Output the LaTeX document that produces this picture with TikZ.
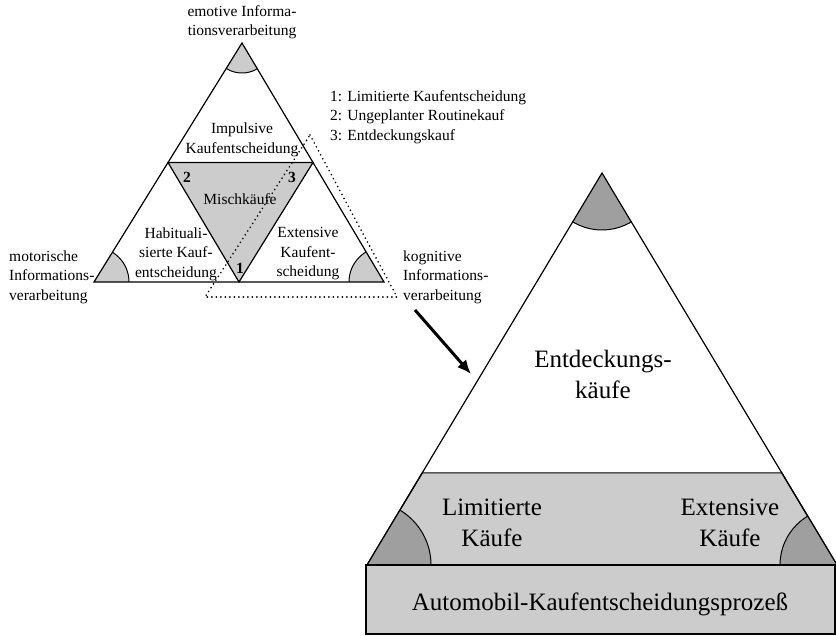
\documentclass[tikz,border=0pt]{standalone}
\usepackage{fontspec}
\setmainfont{Liberation Serif}
\usetikzlibrary{calc,arrows.meta}
\begin{document}
\begin{tikzpicture}[x=1pt,y=-1pt,
  small/.style={font=\fontsize{15.5}{19.5}\selectfont, inner sep=0pt, align=center},
  big/.style={font=\fontsize{25}{31}\selectfont, inner sep=0pt, align=center},
  edge/.style={line width=1.2pt, line join=miter},
  lightfill/.style={fill=gray!40},
  darkfill/.style={fill=gray!75},
  dotline/.style={line width=1.8pt, line cap=round, dash pattern=on 0pt off 4.5pt},
  bignum/.style={font=\fontsize{15.5}{19.5}\selectfont\bfseries, inner sep=0pt},
]
\useasboundingbox (0,0) rectangle (836,636);

% ---------- small triangle ----------
\coordinate (T) at (242,43);
\coordinate (L) at (94,282);
\coordinate (R) at (384,282);
\coordinate (ML) at ($(T)!0.5!(L)$);
\coordinate (MR) at ($(T)!0.5!(R)$);
\coordinate (MB) at ($(L)!0.5!(R)$);

\begin{scope}
  \clip (T) -- (L) -- (R) -- cycle;
  \filldraw[lightfill, draw=black, line width=1pt] (T) circle[radius=30];
  \filldraw[lightfill, draw=black, line width=1pt] (L) circle[radius=35];
  \filldraw[lightfill, draw=black, line width=1pt] (R) circle[radius=35];
\end{scope}
\filldraw[lightfill, draw=black, edge] (ML) -- (MR) -- (MB) -- cycle;
\draw[edge] (T) -- (L) -- (R) -- cycle;

% dotted selection
\coordinate (D1) at (310,135);
\coordinate (D2) at (397,297);
\coordinate (D3) at (205,297);
\draw[dotline] (D1) -- (D2) -- (D3) -- cycle;

% ---------- big triangle ----------
\coordinate (BT) at (602,173);
\coordinate (BL) at (367,565);
\coordinate (BR) at (837,565);
\coordinate (BLt) at ($(BT)!0.765!(BL)$);
\coordinate (BRt) at ($(BT)!0.765!(BR)$);

\filldraw[lightfill, draw=black, edge] (BLt) -- (BRt) -- (BR) -- (BL) -- cycle;
\begin{scope}
  \clip (BT) -- (BL) -- (BR) -- cycle;
  \filldraw[darkfill, draw=black, line width=1pt] (BT) circle[radius=57];
  \filldraw[darkfill, draw=black, line width=1pt] (BL) circle[radius=64];
  \filldraw[darkfill, draw=black, line width=1pt] (BR) circle[radius=57];
\end{scope}
\draw[edge] (BT) -- (BL) -- (BR) -- cycle;
\filldraw[lightfill, draw=black, edge] (366,565) rectangle (835,634);

% arrow
\coordinate (A1) at (415,310);
\coordinate (A2) at (471,374);
\draw[line width=3pt, -{Latex[length=14pt,width=12pt]}] (A1) -- (A2);

% ---------- texts ----------
\node[small] (emo) at (242,22) {emotive Informa-\\tionsverarbeitung};
\node[small, anchor=west, align=left] (mot) at (9,277) {motorische\\Informations-\\verarbeitung};
\node[small, anchor=west, align=left] (kog) at (403,277) {kognitive\\Informations-\\verarbeitung};
\node[small, anchor=west, align=left] (leg) at (330,117) {1: Limitierte Kaufentscheidung\\2: Ungeplanter Routinekauf\\3: Entdeckungskauf};
\node[small] (imp) at (242,140) {Impulsive\\Kaufentscheidung};
\node[small] (misch) at (240,199) {Mischkäufe};
\node[bignum] (n2) at (187,177) {2};
\node[bignum] (n3) at (292,177) {3};
\node[bignum] (n1) at (240,268) {1};
\node[small] (hab) at (176,254) {Habituali-\\sierte Kauf-\\entscheidung};
\node[small] (ext) at (308,254) {Extensive\\Kaufent-\\scheidung};

\node[big] (ent) at (603,374) {Entdeckungs-\\käufe};
\node[big] (lim) at (492,523) {Limitierte\\Käufe};
\node[big] (extk) at (730,523) {Extensive\\Käufe};
\node[big] (proc) at (600,604) {Automobil-Kaufentscheidungsprozeß};
\end{tikzpicture}
\end{document}
